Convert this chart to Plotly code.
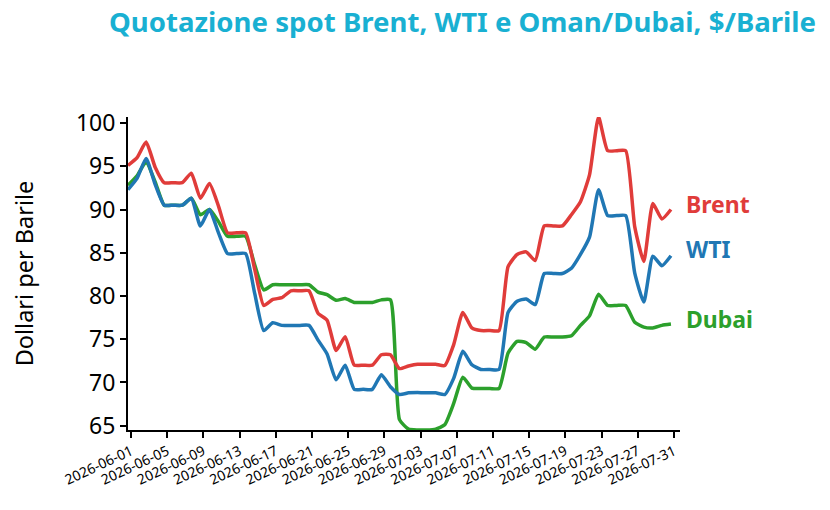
import pandas as pd
import plotly.graph_objects as go

# daily quotes, 2026-06-01 .. 2026-07-31 (61 days)
days = pd.date_range("2026-06-01", "2026-07-31", freq="D")
# source chart shows UTC midnights in local time (UTC-8)
dates = days - pd.Timedelta(hours=8)

brent = [95.1, 96.0, 97.8, 94.9, 93.1, 93.1, 93.1, 94.2, 91.3, 93.0,
         90.4, 87.3, 87.3, 87.3, 83.1, 78.9, 79.6, 79.8, 80.6, 80.6,
         80.6, 78.0, 77.2, 73.7, 75.3, 72.0, 72.0, 72.0, 73.2, 73.2,
         71.6, 71.9, 72.1, 72.1, 72.1, 71.95, 74.4, 78.1, 76.3, 76.0,
         76.0, 76.0, 83.4, 84.8, 85.1, 84.1, 88.1, 88.1, 88.1, 89.4,
         90.9, 94.0, 100.7, 96.8, 96.8, 96.8, 88.0, 84.0, 90.7, 88.9,
         90.0]
wti = [92.3, 93.6, 95.9, 92.9, 90.5, 90.5, 90.5, 91.3, 88.1, 90.0,
       87.3, 84.9, 84.9, 84.9, 80.3, 76.0, 76.9, 76.6, 76.6, 76.6,
       76.6, 74.9, 73.3, 70.3, 72.0, 69.2, 69.2, 69.2, 70.9, 69.5,
       68.6, 68.8, 68.85, 68.8, 68.8, 68.6, 70.5, 73.6, 72.05, 71.5,
       71.5, 71.5, 78.1, 79.4, 79.65, 79.0, 82.6, 82.6, 82.6, 83.2,
       84.8, 86.8, 92.3, 89.3, 89.3, 89.3, 82.65, 79.3, 84.6, 83.5,
       84.65]
dubai = [92.8, 93.9, 95.5, 93.2, 90.5, 90.5, 90.5, 91.3, 89.4, 90.0,
         88.6, 86.9, 86.9, 86.9, 83.6, 80.7, 81.3, 81.3, 81.3, 81.3,
         81.3, 80.45, 80.15, 79.5, 79.7, 79.25, 79.25, 79.25, 79.55, 79.55,
         65.7, 64.6, 64.5, 64.5, 64.6, 65.1, 67.6, 70.6, 69.35, 69.3,
         69.3, 69.3, 73.4, 74.75, 74.6, 73.85, 75.25, 75.25, 75.25, 75.4,
         76.6, 77.7, 80.2, 78.9, 78.9, 78.9, 76.95, 76.4, 76.3, 76.6,
         76.75]

names = ["Brent", "WTI", "Dubai"]
colors = ["#e03c3a", "#2077b4", "#2ca02c"]
series = [brent, wti, dubai]

tick_days = pd.date_range("2026-06-01", "2026-07-31", freq="4D")

fig = go.Figure()
# draw green first so blue/red sit on top like the source
for name, vals, col in reversed(list(zip(names, series, colors))):
    fig.add_trace(go.Scatter(x=dates, y=vals, name=name, mode="lines",
                             line=dict(color=col, width=3.5, shape="spline", smoothing=0.5),
                             hoverinfo="x+y+name"))

# direct labels at line ends
shifts = [6, 7, 5]
for name, vals, col, ys in zip(names, series, colors, shifts):
    fig.add_annotation(x=dates[-1], y=vals[-1], text="<b>%s</b>" % name,
                       showarrow=False, xanchor="left", yanchor="middle",
                       xshift=13, yshift=ys,
                       font=dict(family="Noto Sans", size=23, color=col))

# chart title, right aligned near the top edge
fig.add_annotation(text="<b>Quotazione spot Brent, WTI e Oman/Dubai, $/Barile</b>",
                   xref="paper", yref="paper", x=1.2495, y=1.374,
                   xanchor="right", yanchor="top", showarrow=False,
                   font=dict(family="Noto Sans", size=27.6, color="#19b0d2"))

# page body has an 8px margin, so the figure is a bit smaller than the window
fig.update_layout(
    width=814, height=494,
    margin=dict(l=120, r=142, t=109, b=72),
    plot_bgcolor="white", paper_bgcolor="white",
    showlegend=False,
    font=dict(family="Noto Sans", color="black"),
)
fig.update_xaxes(
    range=[days[0] - pd.Timedelta(hours=8), days[-1] + pd.Timedelta(hours=16)],
    tickvals=tick_days, ticktext=[d.strftime("%Y-%m-%d") for d in tick_days],
    tickangle=-25, tickfont=dict(size=14),
    ticks="outside", ticklen=6, tickwidth=1.5, tickcolor="black",
    showline=True, linecolor="black", linewidth=2, showgrid=False, zeroline=False,
    automargin=False,
)
fig.update_yaxes(
    range=[64.5, 100.7],
    tickvals=[65, 70, 75, 80, 85, 90, 95, 100],
    tickfont=dict(size=23),
    ticks="outside", ticklen=6, tickwidth=1.5, tickcolor="black",
    showline=True, linecolor="black", linewidth=2, showgrid=False, zeroline=False,
    title=dict(text="Dollari per Barile", font=dict(size=23.5), standoff=44),
    automargin=False,
)

fig.write_html("out.html")
